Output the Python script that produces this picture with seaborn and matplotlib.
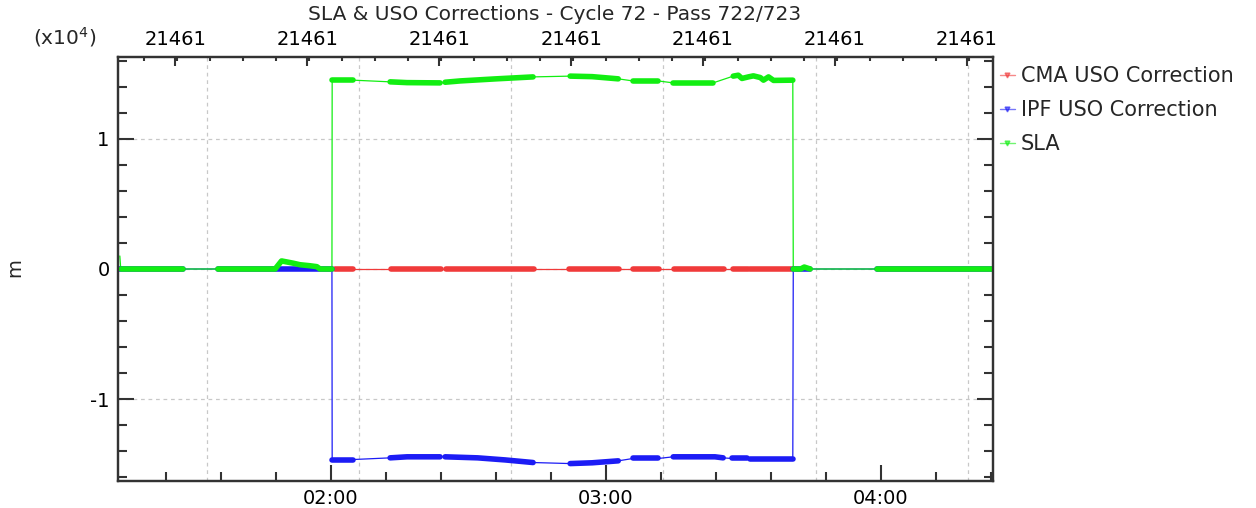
import pandas as pd
import seaborn as sns
import matplotlib.pyplot as plt
from matplotlib.lines import Line2D
from matplotlib.ticker import FixedLocator, MultipleLocator, NullFormatter

# time axis: minutes after 00:00 of day 21461, values in metres
# seg = -1 -> only joined by the thin line (jumps), seg >= 0 -> dense data block
cma_t = [120.9, 124.8, 133.0, 143.9, 145.0, 164.2, 171.9, 182.8, 185.9, 191.6,
         194.8, 205.7, 207.7, 211.0, 211.4, 220.4]
cma_v = [0] * 16
cma_seg = [0, 0, 1, 1, 2, 2, 3, 3, 4, 4, 5, 5, 6, 6, 7, 7]

ipf_t = [73.7, 87.7, 95.3, 120.2, 120.25, 124.8, 132.9, 136.6, 143.8, 144.9,
         152.0, 158.0, 164.1, 172.2, 177.0, 182.7, 185.9, 191.4, 194.7, 203.8,
         205.6, 207.5, 210.8, 211.5, 220.8, 220.9, 224.6, 239.2, 264.5]
ipf_v = [0, 0, 0, 0, -14650, -14650, -14520, -14440, -14440, -14440,
         -14520, -14680, -14880, -14960, -14900, -14750, -14570, -14570, -14440, -14440,
         -14520, -14570, -14570, -14620, -14620, 0, 0, 0, 0]
ipf_seg = [0, 0, 1, 1, 2, 2, 3, 3, 3, 4,
           4, 4, 4, 5, 5, 5, 6, 6, 7, 7,
           7, 8, 8, 9, 9, 10, 10, 11, 11]

sla_t = [73.9, 74.1, 87.7, 95.3, 107.8, 109.2, 111.7, 113.2, 115.4, 116.9,
         117.6, 120.2, 120.25, 124.8, 132.9, 136.6, 143.8, 144.9, 148.2, 156.0,
         164.1, 172.2, 177.0, 182.7, 185.9, 191.4, 194.7, 203.4, 207.8, 208.9,
         209.7, 211.1, 212.2, 213.7, 214.4, 215.5, 216.6, 220.8, 220.9, 222.5,
         223.3, 224.6, 239.2, 264.5]
sla_v = [1000, 0, 0, 0, 0, 620, 450, 330, 250, 180,
         0, 0, 14520, 14520, 14390, 14330, 14310, 14360, 14460, 14620,
         14770, 14830, 14790, 14620, 14460, 14460, 14310, 14310, 14830, 14900,
         14650, 14770, 14850, 14720, 14520, 14770, 14500, 14520, 0, 0,
         150, 0, 0, 0]
sla_seg = [-1, 0, 0, 1, 1, 1, 1, 1, 1, 1,
           1, 1, 2, 2, 3, 3, 3, 4, 4, 4,
           4, 5, 5, 5, 6, 6, 7, 7, 8, 8,
           8, 8, 8, 8, 8, 8, 8, 8, 9, 9,
           9, 9, 10, 10]

grid_t = [92.93, 126.11, 159.30, 192.49, 225.90, 259.08]
top_ticks = [86.0, 114.8, 143.6, 172.4, 201.2, 230.0, 258.8]
top_label = "21461"
bottom_ticks = [120, 180, 240]
bottom_labels = ["02:00", "03:00", "04:00"]
y_ticks = [-1, 0, 1]
y_labels = ["-1", "0", "1"]

series = [
    ("CMA USO Correction", cma_t, cma_v, cma_seg, "#f03a3a"),
    ("IPF USO Correction", ipf_t, ipf_v, ipf_seg, "#1c1cf5"),
    ("SLA", sla_t, sla_v, sla_seg, "#12ee12"),
]

sns.set_style("white")
plt.rcParams["font.family"] = ["DejaVu Sans"]
plt.rcParams["axes.unicode_minus"] = False

fig = plt.figure(figsize=(12.56, 5.08), dpi=100)
ax = fig.add_axes([118 / 1256, 1 - 481 / 508, 875 / 1256, 424 / 508])

# dashed grid
for g in grid_t:
    ax.axvline(g, color="#c8c8c8", lw=0.9, ls=(0, (3, 3)), zorder=0)
for yv in y_ticks:
    ax.axhline(yv, color="#c8c8c8", lw=0.9, ls=(0, (3, 3)), zorder=0)

handles = []
for name, t, v, seg, col in series:
    df = pd.DataFrame({"t": t, "v": [x / 1e4 for x in v], "seg": seg})
    sns.lineplot(data=df, x="t", y="v", estimator=None, sort=False,
                 color=col, lw=0.9, ax=ax, legend=False, zorder=2)
    dense = df[df["seg"] >= 0]
    sns.lineplot(data=dense, x="t", y="v", units="seg", estimator=None, sort=False,
                 color=col, lw=4.0, ax=ax, legend=False, zorder=3)
    handles.append(Line2D([0], [0], color=col, lw=1.0, alpha=0.6, marker="v",
                          ms=3.5, markerfacecolor=col, markeredgecolor=col, label=name))

ax.set_xlim(73.5, 264.5)
ax.set_ylim(-1.63, 1.63)
ax.set_xlabel("")
ax.set_ylabel("")

ax.xaxis.set_major_locator(FixedLocator(bottom_ticks))
ax.set_xticklabels(bottom_labels)
ax.xaxis.set_minor_locator(MultipleLocator(12))
ax.yaxis.set_major_locator(FixedLocator(y_ticks))
ax.set_yticklabels(y_labels)
ax.yaxis.set_minor_locator(MultipleLocator(0.2))

for s in ax.spines.values():
    s.set_color("#333333")
    s.set_linewidth(1.6)
    s.set_visible(True)

ax.tick_params(axis="both", which="both", direction="in", colors="#333333",
               width=1.5, labelcolor="black", labelsize=14)
ax.tick_params(axis="both", which="major", length=11.5, pad=6)
ax.tick_params(axis="both", which="minor", length=6.3)
ax.tick_params(axis="y", which="both", left=True, right=True)
ax.tick_params(axis="x", which="both", top=False, bottom=True)

# top axis with day number
ax2 = ax.twiny()
ax2.set_xlim(ax.get_xlim())
ax2.xaxis.set_major_locator(FixedLocator(top_ticks))
ax2.set_xticklabels([top_label] * len(top_ticks))
ax2.xaxis.set_minor_locator(MultipleLocator(7.2))
ax2.xaxis.set_minor_formatter(NullFormatter())
ax2.tick_params(axis="x", which="both", direction="in", colors="#333333", width=1.5,
                labelcolor="black", labelsize=14, pad=6)
ax2.tick_params(axis="x", which="major", length=6.5)
ax2.tick_params(axis="x", which="minor", length=3.2)
for s in ax2.spines.values():
    s.set_color("#333333")
    s.set_linewidth(1.6)

fig.text(555 / 1256, 1 - 15 / 508, "SLA & USO Corrections - Cycle 72 - Pass 722/723",
         ha="center", va="center", fontsize=14.5)
fig.text(33 / 1256, 1 - 37 / 508, "(x10$^4$)", ha="left", va="center", fontsize=14.5)
fig.text(15 / 1256, 1 - 268 / 508, "m", ha="center", va="center", rotation=90, fontsize=14)

fig.legend(handles=handles, loc="upper left", bbox_to_anchor=(1000 / 1256, 1 - 66 / 508),
           frameon=False, fontsize=15, handlelength=0.7, handletextpad=0.3,
           labelspacing=0.68, borderaxespad=0, borderpad=0)

fig.savefig("out.png", dpi=100)
